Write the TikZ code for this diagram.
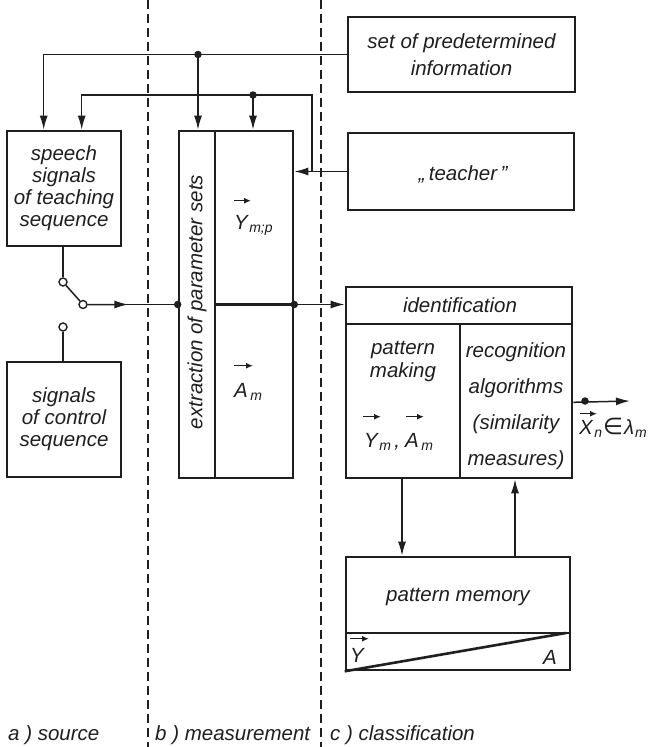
\documentclass[tikz,border=0pt]{standalone}
\usepackage{fontspec}
\setmainfont{Liberation Sans}
\newfontfamily\symfont{DejaVu Sans}
\usetikzlibrary{arrows.meta,calc}
\definecolor{inkc}{gray}{0.12}
\newcommand\sub[1]{\raisebox{-3pt}{\fontsize{14}{14}\selectfont #1}}
\begin{document}
\begin{tikzpicture}[x=1pt,y=-1pt,
  box/.style={draw=inkc, line width=2.6pt, inner sep=0pt},
  divider/.style={draw=inkc, line width=2.6pt},
  conn/.style={draw=inkc, line width=1.5pt},
  arr/.style={conn, -{Latex[length=14pt,width=8pt]}},
  vecarr/.style={draw=inkc, line width=1.5pt, -{Latex[length=7pt,width=6pt]}},
  sep/.style={draw=inkc, line width=1.3pt, dash pattern=on 9pt off 5pt},
  lbl/.style={font=\fontsize{20.5}{22}\selectfont\itshape, text=inkc, inner sep=0pt, align=center},
  dot/.style={circle, fill=inkc, inner sep=0pt, minimum size=7.5pt},
  term/.style={circle, draw=inkc, fill=white, line width=1.4pt, inner sep=0pt, minimum size=8pt},
]
\useasboundingbox (0,0) rectangle (653,747);
\fill[white] (0,0) rectangle (653,747);

% column separators
\draw[sep] (148,0) -- (148,747);
\draw[sep] (321,0) -- (321,747);

% boxes
\node[box, lbl, minimum width=114pt, minimum height=115pt] (speech) at (64,188.5) {speech\\signals\\of teaching\\sequence};
\node[box, lbl, minimum width=114pt, minimum height=115pt] (control) at (64,419.5) {signals\\of control\\sequence};
\node[box, minimum width=114pt, minimum height=347pt] (extr) at (236,304.5) {};
\node[box, lbl, font=\fontsize{20.5}{27}\selectfont\itshape, minimum width=227pt, minimum height=75pt] (set) at (461.5,54.5) {set of predetermined\\information};
\node[box, minimum width=226pt, minimum height=77pt] (teacher) at (461,171.5) {};
\node[lbl] (teachertxt) at (463,174.5) {„\,teacher\,”};
\node[box, minimum width=226pt, minimum height=191pt] (ident) at (459,382.5) {};
\node[box, minimum width=224pt, minimum height=113pt] (mem) at (458,613.5) {};

% internal dividers
\coordinate (exv) at (215,0);
\draw[divider] (extr.north -| exv) -- (extr.south -| exv);
\draw[divider] (extr.west -| exv) -- (extr.east);
\coordinate (idh) at (0,324);
\draw[divider] (ident.west |- idh) -- (ident.east |- idh);
\coordinate (idv) at (460,324);
\draw[divider] (idv) -- (idv |- ident.south);
\coordinate (mh) at (0,633);
\draw[divider] (mem.west |- mh) -- (mem.east |- mh);
\coordinate (mdiag) at (566,633);
\draw[divider] (mem.south west) -- (mdiag);

% texts in boxes
\node[lbl, rotate=90] (extxt) at (197,302) {extraction of parameter sets};
\node[lbl, anchor=base west] (ymp) at (234,229) {Y};
\node[lbl, anchor=base west] (ympS) at ($(ymp.base east)+(1,0)$) {\sub{m;p}};
\draw[vecarr] ($(ymp.north west)+(0,-14)$) -- ++(17,0);
\node[lbl, anchor=base west] (am) at (234,397) {A};
\node[lbl, anchor=base west] (amS) at ($(am.base east)+(2,0)$) {\sub{m}};
\draw[vecarr] ($(am.north west)+(0,-17)$) -- ++(19,0);

\node[lbl] (idtxt) at (460,305.5) {identification};
\node[lbl, font=\fontsize{20.5}{23}\selectfont\itshape] (pmk) at (403,361) {pattern\\making};
\node[lbl, anchor=base west] (yI) at (364,447) {Y};
\node[lbl, anchor=base west] (yIs) at ($(yI.base east)+(1,0)$) {\sub{m}\,,};
\draw[vecarr] ($(yI.north west)+(-1,-16)$) -- ++(18,0);
\node[lbl, anchor=base west] (aI) at (405,447) {A};
\node[lbl, anchor=base west] (aIs) at ($(aI.base east)+(2,0)$) {\sub{m}};
\draw[vecarr] ($(aI.north west)+(1,-16)$) -- ++(18,0);
\node[lbl, font=\fontsize{20.5}{36}\selectfont\itshape] (rec) at (516,406) {recognition\\algorithms\\(similarity\\measures)};

\node[lbl] (memtxt) at (458,596.5) {pattern memory};
\node[lbl, anchor=base west] (yv) at (350,662) {Y};
\draw[vecarr] ($(yv.north west)+(0,-9)$) -- ++(19,0);
\node[lbl, anchor=base west] (av) at (543,664) {A};

% top line from set of predetermined information
\coordinate (dA) at (198,54.5);
\draw[arr] (set.west) -| ($(speech.north west)+(38,0)$);
\draw[arr] (dA) -- (dA |- extr.north);
\node[dot] (dotA) at (dA) {};

% teacher loop
\coordinate (tj) at (312,171.5);
\coordinate (tk) at (312,95);
\coordinate (dB) at (253,95);
\draw[arr] (teacher.west) -- (teacher.west -| extr.east);
\draw[arr] (tj) -- (tk) -| ($(speech.north west)+(76,0)$);
\draw[arr] (dB) -- (dB |- extr.north);
\node[dot] (dotB) at (dB) {};

% switch
\node[term] (sw1) at (63,282) {};
\node[term] (sw2) at (83,304.5) {};
\node[term] (sw3) at (63,327) {};
\draw[conn] (speech.south -| sw1) -- (sw1);
\draw[conn] (sw1) -- (sw2);
\draw[conn] (sw3) -- (sw3 |- control.north);
\node[dot] (dW) at (extr.west) {};
\node[dot] (dE) at (extr.east) {};
\draw[conn] (sw2) -- (dW.center);
\draw[arr] (sw2) -- ($(sw2.center)!0.48!(dW.center)$);
\draw[arr] (dE.center) -- (dE.center -| ident.west);

% identification <-> pattern memory
\coordinate (mA) at (402,0);
\coordinate (mB) at (515,0);
\draw[arr] (ident.south -| mA) -- (mem.north -| mA);
\draw[arr] (mem.north -| mB) -- (ident.south -| mB);

% output
\coordinate (outS) at ($(ident.south east)+(0,-77)$);
\coordinate (outE) at (630,401);
\draw[arr] (outS) -- (outE);
\node[dot] (dotO) at (585,401) {};
\node[lbl, anchor=base west] (xX) at (579,434) {X};
\node[lbl, anchor=base west] (xrest) at ($(xX.base east)+(1,0)$) {\sub{n}\kern1pt{\symfont\upshape\fontsize{23}{23}\selectfont ∈}\kern1ptλ\kern1pt\sub{m}};
\draw[vecarr] ($(xX.north west)+(1,-6)$) -- ++(17,0);

% column labels
\node[lbl, anchor=base west] (la) at (8,740) {a ) source};
\node[lbl, anchor=base west] (lb) at (155,740) {b ) measurement};
\node[lbl, anchor=base west] (lc) at (330,740) {c ) classification};
\end{tikzpicture}
\end{document}
